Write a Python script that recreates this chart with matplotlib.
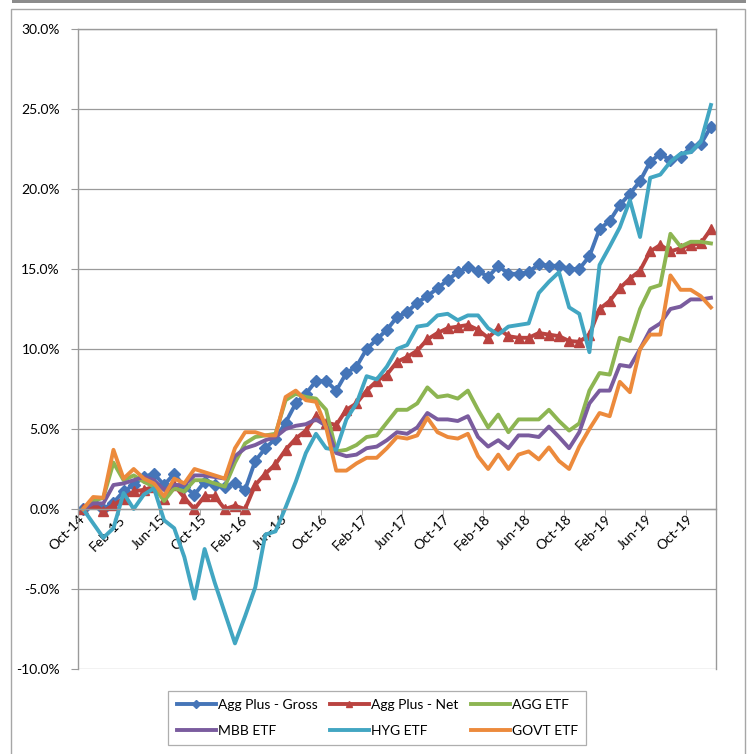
import numpy as np
import matplotlib
matplotlib.use("Agg")
import matplotlib.pyplot as plt
from matplotlib.patches import Rectangle
from matplotlib.ticker import FuncFormatter

plt.rcParams['font.family'] = ['Lato', 'DejaVu Sans']

# monthly cumulative returns (%), Oct-14 .. Dec-19
gross = [0.0, 0.4, 0.0, 0.4, 1.1, 1.5, 2.0, 2.2, 1.5, 2.2,
         1.4, 0.9, 1.7, 1.5, 1.4, 1.6, 1.2, 3.0, 3.8, 4.4,
         5.4, 6.6, 7.2, 8.0, 8.0, 7.4, 8.5, 8.9, 10.0, 10.6,
         11.2, 12.0, 12.3, 12.9, 13.3, 13.8, 14.3, 14.8, 15.1, 14.9,
         14.5, 15.2, 14.7, 14.7, 14.8, 15.3, 15.2, 15.2, 15.0, 15.0,
         15.8, 17.5, 18.0, 19.0, 19.7, 20.5, 21.7, 22.2, 21.8, 22.0,
         22.6, 22.8, 23.9]
net = [0.0, 0.35, -0.15, 0.25, 0.65, 1.1, 1.2, 1.4, 0.65, 1.5,
       0.7, 0.0, 0.8, 0.8, 0.0, 0.2, 0.0, 1.5, 2.2, 2.8,
       3.7, 4.4, 4.9, 5.8, 5.4, 5.25, 6.2, 6.6, 7.4, 8.0,
       8.4, 9.2, 9.5, 9.9, 10.6, 11.0, 11.3, 11.4, 11.5, 11.2,
       10.7, 11.3, 10.8, 10.7, 10.7, 11.0, 10.9, 10.8, 10.5, 10.45,
       10.9, 12.5, 13.0, 13.8, 14.4, 14.9, 16.1, 16.5, 16.1, 16.3,
       16.5, 16.6, 17.5]
agg = [0.0, 0.5, 0.7, 2.9, 1.8, 2.1, 1.7, 1.4, 0.5, 1.3,
       1.1, 1.8, 1.8, 1.6, 1.4, 2.9, 4.1, 4.5, 4.6, 4.7,
       6.8, 7.2, 7.0, 6.9, 6.2, 3.6, 3.7, 4.0, 4.5, 4.6,
       5.4, 6.2, 6.2, 6.6, 7.6, 7.0, 7.1, 6.9, 7.4, 6.2,
       5.1, 5.9, 4.8, 5.6, 5.6, 5.6, 6.2, 5.5, 4.9, 5.35,
       7.4, 8.5, 8.4, 10.7, 10.5, 12.5, 13.8, 14.0, 17.2, 16.4,
       16.7, 16.7, 16.6]
mbb = [0.0, 0.35, 0.35, 1.5, 1.6, 1.8, 2.0, 1.8, 1.2, 1.5,
       1.5, 2.1, 2.1, 2.0, 1.9, 3.3, 3.8, 4.0, 4.3, 4.5,
       5.0, 5.2, 5.3, 5.6, 5.2, 3.5, 3.3, 3.4, 3.8, 3.9,
       4.3, 4.8, 4.7, 5.1, 6.0, 5.6, 5.6, 5.5, 5.8, 4.5,
       3.9, 4.3, 3.8, 4.6, 4.6, 4.5, 5.15, 4.5, 3.8, 4.8,
       6.6, 7.4, 7.4, 9.0, 8.9, 10.0, 11.2, 11.6, 12.5, 12.65,
       13.1, 13.1, 13.2]
hyg = [0.0, -0.9, -1.8, -1.2, 1.0, 0.0, 0.9, 1.3, -0.7, -1.2,
       -3.0, -5.6, -2.5, -4.6, -6.5, -8.4, -6.7, -4.9, -1.6, -1.4,
       0.1, 1.7, 3.5, 4.7, 3.8, 3.7, 5.6, 6.6, 8.3, 8.1,
       8.9, 10.0, 10.25, 11.4, 11.5, 12.1, 12.2, 11.8, 12.1, 12.1,
       11.3, 10.9, 11.4, 11.5, 11.6, 13.5, 14.2, 14.8, 12.6, 12.2,
       9.8, 15.25, 16.4, 17.6, 19.3, 17.0, 20.7, 20.9, 21.7, 22.2,
       22.3, 22.95, 25.25]
govt = [0.0, 0.75, 0.7, 3.7, 1.9, 2.5, 1.9, 1.6, 0.8, 1.9,
        1.6, 2.5, 2.3, 2.1, 1.9, 3.8, 4.8, 4.8, 4.6, 4.6,
        7.0, 7.4, 6.8, 6.7, 5.1, 2.4, 2.4, 2.85, 3.2, 3.2,
        3.8, 4.5, 4.4, 4.6, 5.7, 4.8, 4.5, 4.4, 4.7, 3.3,
        2.5, 3.4, 2.5, 3.4, 3.6, 3.1, 3.85, 3.0, 2.5, 3.9,
        5.0, 6.0, 5.8, 7.95, 7.3, 10.0, 10.9, 10.9, 14.6, 13.7,
        13.7, 13.3, 12.6]

series_names = ['Agg Plus - Gross', 'Agg Plus - Net', 'AGG ETF',
                'MBB ETF', 'HYG ETF', 'GOVT ETF']
tick_labels = ['Oct-14', 'Feb-15', 'Jun-15', 'Oct-15', 'Feb-16', 'Jun-16',
               'Oct-16', 'Feb-17', 'Jun-17', 'Oct-17', 'Feb-18', 'Jun-18',
               'Oct-18', 'Feb-19', 'Jun-19', 'Oct-19']

colors = ['#4575B8', '#BA4340', '#8DB552', '#7A5C9E', '#42A6C2', '#EC8A3C']
markers = ['D', '^', None, None, None, None]
msizes = [5.8, 7.5, 0, 0, 0, 0]


def main():
    W = 754
    fig = plt.figure(figsize=(7.54, 7.54), dpi=100)
    ax = fig.add_axes([78 / W, 1 - 669 / W, (716 - 78) / W, 640 / W])

    n = len(gross)
    x = np.arange(n)
    lines = []
    for vals, name, c, m, ms in zip([gross, net, agg, mbb, hyg, govt],
                                    series_names, colors, markers, msizes):
        ln, = ax.plot(x, vals, color=c, lw=2.8, marker=m, markersize=ms,
                      markeredgecolor=c, label=name)
        lines.append(ln)

    grey = '#9a9a9a'
    fs = 10
    ax.set_xlim(-0.5, n - 0.5)
    ax.set_ylim(-10, 30)
    ax.set_yticks(np.arange(-10, 31, 5))
    ax.yaxis.set_major_formatter(FuncFormatter(lambda v, p: f'{v:.1f}%'))
    ax.yaxis.grid(True, color=grey, lw=0.9)
    ax.set_axisbelow(True)
    ax.tick_params(axis='y', length=5, color=grey, pad=8, labelsize=fs)

    # category axis crossing at 0%
    ax.spines['bottom'].set_position(('data', 0))
    ax.set_xticks(x[::4])
    ax.set_xticklabels(tick_labels)
    ax.set_xticks(x[::4] - 0.5, minor=True)
    ax.tick_params(axis='x', which='major', length=0, pad=6, labelsize=fs)
    ax.tick_params(axis='x', which='minor', length=4, color=grey)
    for lbl in ax.get_xticklabels():
        lbl.set_rotation(45)
        lbl.set_ha('right')
        lbl.set_va('center')
        lbl.set_rotation_mode('anchor')

    for s in ax.spines.values():
        s.set_color(grey)
        s.set_linewidth(1)

    # legend in rows: Gross, Net, AGG / MBB, HYG, GOVT
    order = [0, 3, 1, 4, 2, 5]
    leg = fig.legend([lines[i] for i in order], [series_names[i] for i in order],
                     ncol=3, loc='center', bbox_to_anchor=(0.5005, 0.0477),
                     fontsize=fs, frameon=True, fancybox=False,
                     edgecolor=grey, handlelength=2.8, handletextpad=0.15,
                     columnspacing=0.9, labelspacing=1.0, borderpad=0.6,
                     numpoints=1, markerscale=0.65)
    leg.get_frame().set_linewidth(0.9)

    # outer chart frame and top band
    fig.add_artist(Rectangle((11 / W, -0.01), (745 - 11) / W, 1 - 9 / W + 0.01,
                             transform=fig.transFigure, fill=False,
                             edgecolor='#a6a6a6', lw=1))
    fig.add_artist(Rectangle((12 / W, 1 - 3 / W), (746 - 12) / W, 3 / W,
                             transform=fig.transFigure, facecolor='#8c8c8c',
                             edgecolor='none'))

    fig.savefig('out.png', dpi=100)


if __name__ == '__main__':
    main()
